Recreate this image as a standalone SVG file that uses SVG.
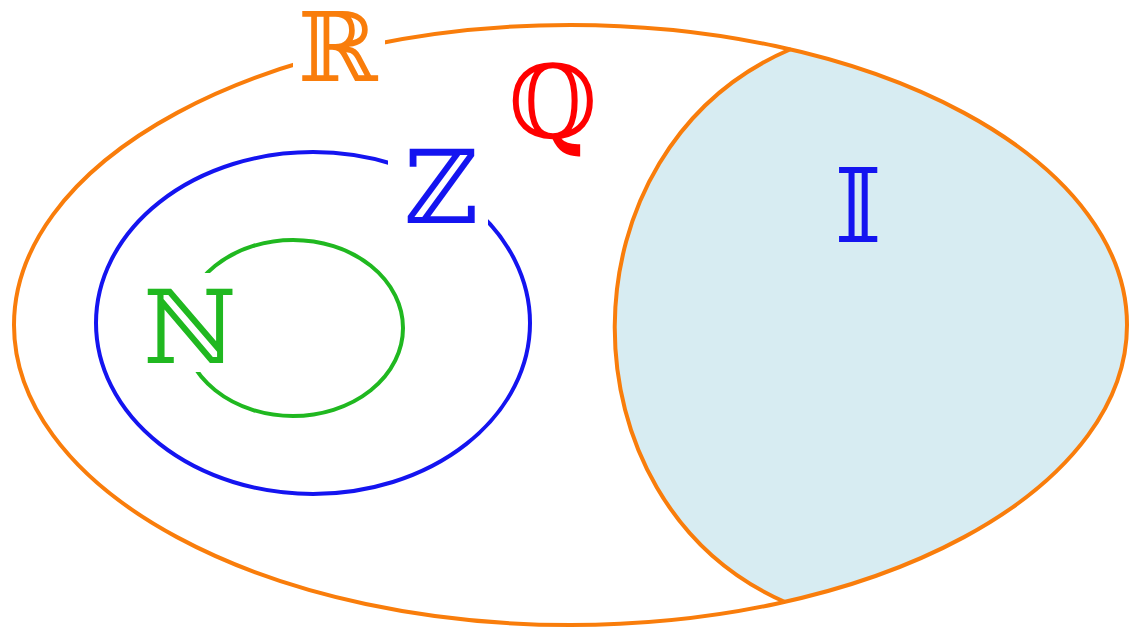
<svg xmlns="http://www.w3.org/2000/svg" width="1129" height="630" viewBox="0 0 1129 630">
<style>
.lbl{font-family:"DejaVu Serif","Liberation Serif",serif;font-size:102px;text-anchor:middle}
.knock{fill:#ffffff;stroke:none}
.ln{fill:none;stroke-width:4}
</style>
<rect width="1129" height="630" fill="#ffffff"/>
<g id="irrational-region">
<path d="M791,49 C557,149 557,502 785,602 A556.5,300 0 0 0 791,49 Z" fill="#d7ecf2" stroke="none"/>
</g>
<g id="connectors">
<ellipse id="R-set" class="ln" cx="570.5" cy="325" rx="556.5" ry="300" stroke="#f97d0b"/>
<path id="Q-I-boundary" class="ln" d="M791,49 C557,149 557,502 785,602" stroke="#f97d0b"/>
<ellipse id="Z-set" class="ln" cx="313" cy="323" rx="217" ry="171" stroke="#1414f0"/>
<ellipse id="N-set" class="ln" cx="293" cy="328" rx="110" ry="88" stroke="#20b820"/>
</g>
<g id="label-R">
<rect class="knock" x="293" y="5" width="92" height="85"/>
<text class="lbl" x="338" y="81" fill="#f97d0b" style="font-size:96px">ℝ</text>
</g>
<g id="label-Q">
<text class="lbl" x="553" y="138" fill="#ff0000">ℚ</text>
</g>
<g id="label-Z">
<rect class="knock" x="388" y="140" width="100" height="92"/>
<text class="lbl" x="441" y="223" fill="#1414f0">ℤ</text>
</g>
<g id="label-N">
<rect class="knock" x="137" y="273" width="103" height="99"/>
<text class="lbl" x="190" y="363" fill="#20b820">ℕ</text>
</g>
<g id="label-I">
<text class="lbl" x="858" y="242" fill="#1414f0">𝕀</text>
</g>
</svg>
